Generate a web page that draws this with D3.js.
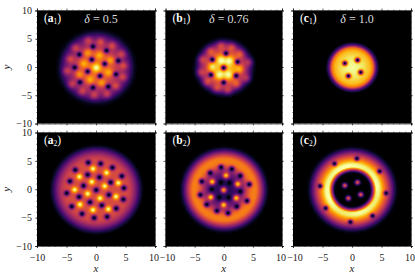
<!DOCTYPE html>
<html>
<head>
<meta charset="utf-8">
<script src="https://cdnjs.cloudflare.com/ajax/libs/d3/7.8.5/d3.min.js"></script>
<style>
  html, body { margin: 0; padding: 0; background: #fff; }
  svg { display: block; }
  svg text { font-family: "Liberation Serif", "DejaVu Serif", serif !important; fill: #222; }
</style>
</head>
<body>
<svg id="chart"></svg>
<script>
"use strict";

// vortex positions, [x, y]
const vorticesA1 = [[-0.6,3.7],[-2.9,2.3],[1.7,3.0],[3.7,1.2],[-0.8,1.4],[1.4,0.65],[-3.7,0],[-1.5,-0.7],[0.6,-1.5],[3.3,-1.2],[-2.8,-2.6],[-0.6,-3.55],[2.0,-3.4]];
const vorticesA2 = [[-1.4,4.8],[0.7,4.6],[2.7,3.9],[-3.6,3.5],[-1.5,2.65],[0.5,2.2],[4.3,2.4],[-4.5,1.5],[2.4,1.3],[-2.2,0.7],[4.65,0.3],[-5.05,-0.6],[-0.05,-0.05],[2.1,-0.9],[-2.95,-1.25],[4.55,-1.7],[-1.1,-2.2],[0.9,-2.75],[-4.2,-2.95],[3.35,-3.3],[-2.45,-4.25],[-0.4,-4.95],[1.8,-4.75]];
const vorticesB1 = [[0.3,2.5],[-2.05,1.4],[2.3,1.0],[-0.1,-0.05],[-2.3,-1.3],[2.05,-1.45],[-0.1,-2.65]];
const vorticesB2 = [[-0.55,3.95],[1.3,3.65],[-2.4,2.95],[2.75,2.45],[-3.85,1.45],[-0.55,1.3],[0.9,1.2],[4.3,0.95],[-2.15,0.1],[2.75,-0.3],[-4.1,-0.9],[-0.85,-1.35],[0.75,-1.35],[3.9,-1.95],[-3,-2.6],[2.15,-2.95],[-1.25,-3.7],[0.65,-4.1]];
const vorticesC1 = [[-1.3,0.75],[0.85,1.3],[1.4,-0.85],[-0.7,-1.5]];
const vorticesC2 = [[0.75,5.5],[-3.05,4.6],[4.6,3.25],[-5.5,0.65],[5.7,-0.6],[-4.55,-3.25],[3.4,-4.6],[-0.35,-5.7]];

// density against radius, colour fraction
const radii     = [0, 1, 2, 3, 3.5, 4, 4.5, 5, 5.5, 6, 6.5, 7, 7.5, 8, 10];
const profileA1 = [0.8, 0.68, 0.62, 0.55, 0.5, 0.44, 0.38, 0.31, 0.24, 0.14, 0.05, 0.01, 0, 0, 0];
const profileA2 = [0.58, 0.58, 0.58, 0.58, 0.58, 0.58, 0.58, 0.58, 0.55, 0.48, 0.37, 0.24, 0.1, 0.01, 0];
const profileB1 = [0.85, 0.84, 0.76, 0.56, 0.46, 0.35, 0.2, 0.07, 0.01, 0, 0, 0, 0, 0, 0];
const profileB2 = [0.16, 0.14, 0.2, 0.32, 0.44, 0.58, 0.68, 0.72, 0.7, 0.57, 0.38, 0.18, 0.04, 0, 0];
const profileC1 = [0.99, 0.97, 0.92, 0.83, 0.68, 0.24, 0.02, 0, 0, 0, 0, 0, 0, 0, 0];
const profileC2 = [0, 0, 0, 0.05, 0.6, 1.1, 1.02, 0.84, 0.68, 0.54, 0.36, 0.18, 0.04, 0, 0];

const panelLabels = ["a", "b", "c"];
const deltas = ["0.5", "0.76", "1.0"];
const ticks = [-10, -5, 0, 5, 10];
const minorTicks = d3.range(-10, 11);

const panels = [
  { col: 0, row: 0, own: vorticesA1, other: vorticesA2, profile: profileA1, bump: 0.22, bumpSize: 0.7, halo: 0, dip: 0.2 },
  { col: 1, row: 0, own: vorticesB1, other: vorticesB2, profile: profileB1, bump: 0.2, bumpSize: 0.7, halo: 0, dip: 0.2 },
  { col: 2, row: 0, own: vorticesC1, other: vorticesC2, profile: profileC1, bump: 0, bumpSize: 0.7, halo: 0, dip: 0.16 },
  { col: 0, row: 1, own: vorticesA2, other: vorticesA1, profile: profileA2, bump: 0.42, bumpSize: 0.5, halo: 0, dip: 0.22 },
  { col: 1, row: 1, own: vorticesB2, other: vorticesB1, profile: profileB2, bump: 0.62, bumpSize: 0.5, halo: 0, dip: 0.22 },
  { col: 2, row: 1, own: vorticesC2, other: vorticesC1, profile: profileC2, bump: 0.62, bumpSize: 0.42, halo: 0.9, dip: 0.16 }
];

const width = 415;
const height = 277;
const colX = [[37, 155], [165.5, 282], [293, 411]];
const rowY = [[10.5, 123.5], [132.5, 246]];

const color = d3.scaleSequential(d3.interpolateInferno).domain([0, 1]);

const svg = d3.select("#chart").attr("width", width).attr("height", height);

const density = (p, radial, x, y) => {
  let n = radial(Math.hypot(x, y));
  p.own.forEach((v) => {
    n *= 1 - Math.exp(-((x - v[0]) ** 2 + (y - v[1]) ** 2) / p.dip);
  });
  let halo = 0;
  let bump = 0;
  p.other.forEach((v) => {
    const d2 = (x - v[0]) ** 2 + (y - v[1]) ** 2;
    halo += Math.exp(-d2 / 3.2);
    bump += Math.exp(-d2 / (p.bumpSize * p.bumpSize));
  });
  if (p.halo) n *= Math.max(0, 1 - p.halo * halo);
  return n + p.bump * bump;
};

const drawPanel = (p) => {
  const xScale = d3.scaleLinear().domain([-10, 10]).range(colX[p.col]);
  const yScale = d3.scaleLinear().domain([-10, 10]).range([rowY[p.row][1], rowY[p.row][0]]);
  const radial = d3.scaleLinear().domain(radii).range(p.profile).clamp(true);

  const g = svg.append("g");
  g.append("rect")
    .attr("x", xScale(-10))
    .attr("y", yScale(10))
    .attr("width", xScale(10) - xScale(-10))
    .attr("height", yScale(-10) - yScale(10))
    .attr("fill", "#000");

  // one cell per screen pixel, values taken back through the scales
  const xs = d3.range(Math.ceil(colX[p.col][0]), Math.floor(colX[p.col][1])).map((px) => xScale.invert(px));
  const ys = d3.range(Math.ceil(rowY[p.row][0]), Math.floor(rowY[p.row][1])).map((py) => yScale.invert(py));
  const cells = [];
  xs.forEach((x) => {
    ys.forEach((y) => {
      const n = density(p, radial, x, y);
      if (n > 0.015) cells.push({ x, y, n });
    });
  });

  g.selectAll("rect.cell")
    .data(cells)
    .enter()
    .append("rect")
    .attr("class", "cell")
    .attr("x", (d) => Math.round(xScale(d.x)))
    .attr("y", (d) => Math.round(yScale(d.y)))
    .attr("width", 1)
    .attr("height", 1)
    .attr("shape-rendering", "crispEdges")
    .attr("fill", (d) => color(Math.min(d.n, 1)));

  // ticks on all four sides
  const bottom = d3.axisBottom(xScale).tickValues(ticks).tickSize(2).tickFormat(p.row === 1 ? d3.format("d") : "");
  const left = d3.axisLeft(yScale).tickValues(ticks).tickSize(2).tickFormat(p.col === 0 ? d3.format("d") : "");
  const top = d3.axisTop(xScale).tickValues(ticks).tickSize(2).tickFormat("");
  const right = d3.axisRight(yScale).tickValues(ticks).tickSize(2).tickFormat("");

  const addAxis = (axis, tx, ty, minorAxis) => {
    const a = g.append("g").attr("transform", `translate(${tx},${ty})`).call(axis);
    a.select(".domain").attr("stroke", "#000").attr("stroke-width", 0.6);
    a.selectAll("line").attr("stroke-width", 0.5);
    a.selectAll("text").attr("font-size", 10);
    const m = g.append("g").attr("transform", `translate(${tx},${ty})`).call(minorAxis);
    m.select(".domain").remove();
    m.selectAll("text").remove();
    m.selectAll("line").attr("stroke-width", 0.4);
    return a;
  };

  const minor = (make, s) => make(s).tickValues(minorTicks).tickSize(1).tickFormat("");
  const ab = addAxis(bottom, 0, rowY[p.row][1], minor(d3.axisBottom, xScale));
  const al = addAxis(left, colX[p.col][0], 0, minor(d3.axisLeft, yScale));
  addAxis(top, 0, rowY[p.row][0], minor(d3.axisTop, xScale));
  addAxis(right, colX[p.col][1], 0, minor(d3.axisRight, yScale));
  ab.selectAll("text").attr("dy", "0.95em");
  // neighbouring end labels nearly touch, nudge them apart
  ab.selectAll("text").filter((d) => d === 10).attr("dx", -1.5);
  if (p.col > 0) ab.selectAll("text").filter((d) => d === -10).attr("dx", 1.5);

  // panel label, real text with subscript
  const label = g.append("text")
    .attr("x", xScale(-10) + 7)
    .attr("y", yScale(10) + 11)
    .attr("font-size", 11.5)
    .style("fill", "#fff");
  label.append("tspan").text("(");
  label.append("tspan").attr("font-weight", "bold").text(panelLabels[p.col]);
  label.append("tspan").attr("font-size", 7.5).attr("dy", 2).text(p.row + 1);
  label.append("tspan").attr("dy", -2).text(")");

  if (p.row === 0) {
    const title = g.append("text")
      .attr("x", xScale(0) + 5)
      .attr("y", yScale(10) + 12)
      .attr("text-anchor", "middle")
      .attr("font-size", 12)
      .style("fill", "#ddd");
    title.append("tspan").attr("font-style", "italic").text("δ");
    title.append("tspan").text(" = " + deltas[p.col]);
  }

  if (p.row === 1) {
    g.append("text")
      .attr("x", xScale(0))
      .attr("y", 272)
      .attr("text-anchor", "middle")
      .attr("font-size", 11)
      .attr("font-style", "italic")
      .text("x");
  }
  if (p.col === 0) {
    g.append("text")
      .attr("transform", `translate(10,${yScale(0)}) rotate(-90)`)
      .attr("text-anchor", "middle")
      .attr("font-size", 11)
      .attr("font-style", "italic")
      .text("y");
  }
};

panels.forEach(drawPanel);
</script>
</body>
</html>
